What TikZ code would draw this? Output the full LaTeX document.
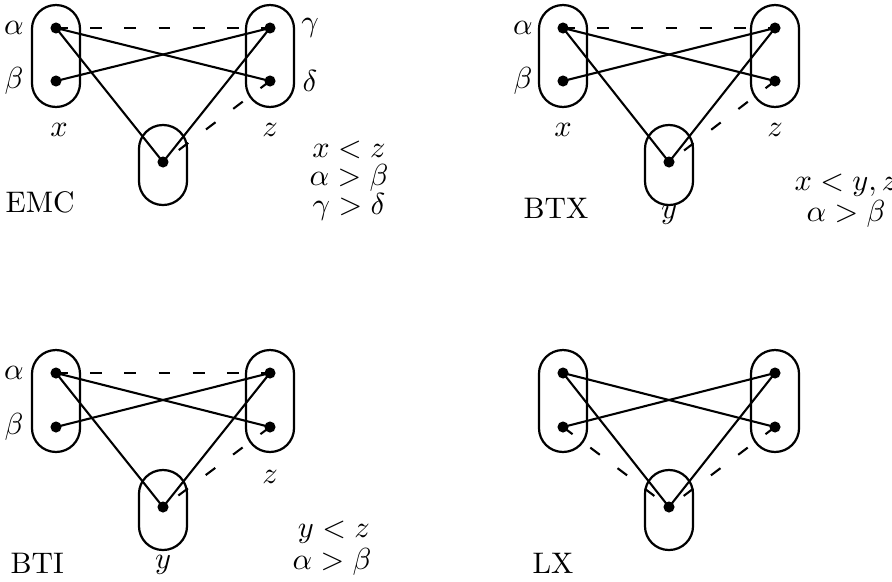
\documentclass[tikz,border=0pt]{standalone}
\begin{document}
\begin{tikzpicture}[x=0.36pt,y=-0.36pt,
  setbox/.style={draw, line width=0.8pt, rounded corners=8.6pt, minimum width=17.3pt, inner sep=0pt},
  tallbox/.style={setbox, minimum height=36.7pt},
  shortbox/.style={setbox, minimum height=28.8pt},
  dot/.style={circle, fill, inner sep=0pt, minimum size=4pt},
  link/.style={line width=0.75pt},
  dlink/.style={line width=0.75pt, dash pattern=on 4.3pt off 8pt},
  lab/.style={inner sep=0pt, font=\fontsize{10.7}{13}\selectfont}]
\useasboundingbox (0,0) rectangle (892,581);

% ---------- Panel EMC ----------
\begin{scope}[shift={(56,28)}]
\node[tallbox] (ex) at (0,28) {};
\node[tallbox] (ez) at (214,28) {};
\node[shortbox] (ey) at (107,137) {};
\node[dot] (ea) at (0,0) {};
\node[dot] (eb) at (0,53) {};
\node[dot] (eg) at (214,0) {};
\node[dot] (ed) at (214,53) {};
\node[dot] (eyd) at (107,134) {};
\draw[dlink] (ea.center) -- (eg.center);
\draw[dlink] (ed.center) -- (eyd.center);
\draw[link] (ea.center) -- (ed.center);
\draw[link] (eb.center) -- (eg.center);
\draw[link] (ea.center) -- (eyd.center);
\draw[link] (eg.center) -- (eyd.center);
\node[lab] (ela) at (-42,0) {$\alpha$};
\node[lab] (elb) at (-42,53) {$\beta$};
\node[lab] (elg) at (254,0) {$\gamma$};
\node[lab] (eld) at (254,53) {$\delta$};
\node[lab] (elx) at (3,102) {$x$};
\node[lab] (elz) at (214,102) {$z$};
\end{scope}
\node[lab, anchor=west] (emc) at (5,202) {EMC};
\node[lab] (ec1) at (349,150) {$x<z$};
\node[lab] (ec2) at (349,178) {$\alpha>\beta$};
\node[lab] (ec3) at (349,207) {$\gamma>\delta$};

% ---------- Panel BTX ----------
\begin{scope}[shift={(563,28)}]
\node[tallbox] (tx) at (0,28) {};
\node[tallbox] (tz) at (212,28) {};
\node[shortbox] (ty) at (106,137) {};
\node[dot] (ta) at (0,0) {};
\node[dot] (tb) at (0,53) {};
\node[dot] (tg) at (212,0) {};
\node[dot] (td) at (212,53) {};
\node[dot] (tyd) at (106,134) {};
\draw[dlink] (ta.center) -- (tg.center);
\draw[dlink] (td.center) -- (tyd.center);
\draw[link] (ta.center) -- (td.center);
\draw[link] (tb.center) -- (tg.center);
\draw[link] (ta.center) -- (tyd.center);
\draw[link] (tg.center) -- (tyd.center);
\node[lab] (tla) at (-40,0) {$\alpha$};
\node[lab] (tlb) at (-40,53) {$\beta$};
\node[lab] (tlx) at (0,102) {$x$};
\node[lab] (tlz) at (212,102) {$z$};
\node[lab] (tly) at (106,187) {$y$};
\end{scope}
\node[lab, anchor=west] (btx) at (523,208) {BTX};
\node[lab] (tc1) at (846,185) {$x<y,z$};
\node[lab] (tc2) at (846,214) {$\alpha>\beta$};

% ---------- Panel BTI ----------
\begin{scope}[shift={(56,373)}]
\node[tallbox] (ix) at (0,28) {};
\node[tallbox] (iz) at (214,28) {};
\node[shortbox] (iy) at (107,137) {};
\node[dot] (ia) at (0,0) {};
\node[dot] (ib) at (0,54) {};
\node[dot] (ig) at (214,0) {};
\node[dot] (id) at (214,54) {};
\node[dot] (iyd) at (107,134) {};
\draw[dlink] (ia.center) -- (ig.center);
\draw[dlink] (id.center) -- (iyd.center);
\draw[link] (ia.center) -- (id.center);
\draw[link] (ib.center) -- (ig.center);
\draw[link] (ia.center) -- (iyd.center);
\draw[link] (ig.center) -- (iyd.center);
\node[lab] (ila) at (-42,0) {$\alpha$};
\node[lab] (ilb) at (-42,54) {$\beta$};
\node[lab] (ilz) at (214,104) {$z$};
\node[lab] (ily) at (107,192) {$y$};
\end{scope}
\node[lab, anchor=west] (bti) at (10,563) {BTI};
\node[lab] (ic1) at (334,532) {$y<z$};
\node[lab] (ic2) at (332,562) {$\alpha>\beta$};

% ---------- Panel LX ----------
\begin{scope}[shift={(563,373)}]
\node[tallbox] (lx) at (0,28) {};
\node[tallbox] (lz) at (212,28) {};
\node[shortbox] (ly) at (106,137) {};
\node[dot] (la) at (0,0) {};
\node[dot] (lb) at (0,54) {};
\node[dot] (lg) at (212,0) {};
\node[dot] (ld) at (212,54) {};
\node[dot] (lyd) at (106,134) {};
\draw[dlink] (lb.center) -- (lyd.center);
\draw[dlink] (ld.center) -- (lyd.center);
\draw[link] (la.center) -- (ld.center);
\draw[link] (lb.center) -- (lg.center);
\draw[link] (la.center) -- (lyd.center);
\draw[link] (lg.center) -- (lyd.center);
\end{scope}
\node[lab, anchor=west] (lxl) at (532,563) {LX};
\end{tikzpicture}
\end{document}
